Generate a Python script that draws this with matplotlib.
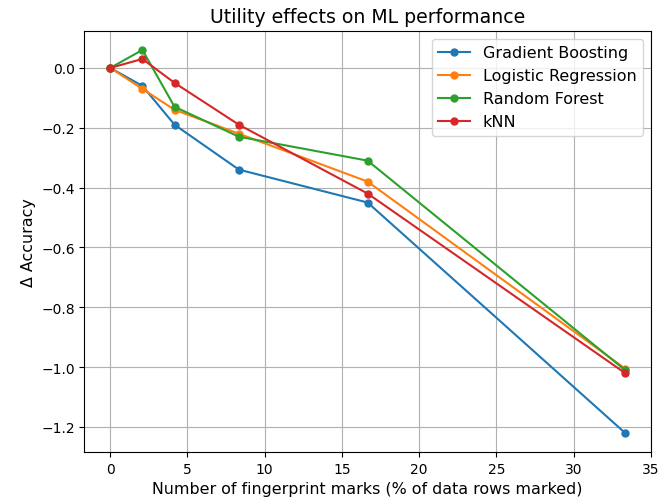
import matplotlib

matplotlib.use("Agg")
import matplotlib.pyplot as plt

# x: % of data rows marked
marks_pct = [0, 100 / 48, 100 / 24, 100 / 12, 100 / 6, 100 / 3]

gradient_boosting = [0.0, -0.06, -0.19, -0.34, -0.45, -1.22]
logistic_regression = [0.0, -0.07, -0.14, -0.22, -0.38, -1.005]
random_forest = [0.0, 0.06, -0.13, -0.23, -0.31, -1.01]
knn = [0.0, 0.03, -0.05, -0.19, -0.42, -1.02]

series = [
    ("Gradient Boosting", gradient_boosting),
    ("Logistic Regression", logistic_regression),
    ("Random Forest", random_forest),
    ("kNN", knn),
]

fig = plt.figure(figsize=(6.6, 5.02), dpi=100)
ax = fig.add_axes([0.128, 0.0976, 0.858, 0.839])

for name, vals in series:
    ax.plot(marks_pct, vals, "-o", ms=5, lw=1.5, label=name)

ax.set_xticks([0, 5, 10, 15, 20, 25, 30, 35])
ax.grid(True)
ax.legend(loc="upper right", fontsize=11.5)
ax.set_title("Utility effects on ML performance", fontsize=13.6)
ax.set_xlabel("Number of fingerprint marks (% of data rows marked)", fontsize=11.4)
ax.set_ylabel("Δ Accuracy", fontsize=11.4)

fig.savefig("out.png", dpi=100)
